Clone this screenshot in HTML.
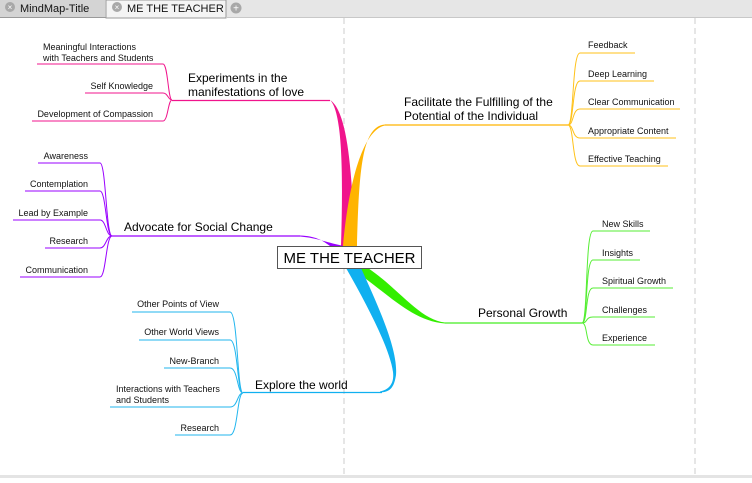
<!DOCTYPE html>
<html><head><style>
body{margin:0;width:752px;height:478px;overflow:hidden;background:#fff;font-family:"Liberation Sans",sans-serif}
</style></head><body>
<svg width="752" height="478" xmlns="http://www.w3.org/2000/svg" font-family="Liberation Sans, sans-serif">
<!-- tab bar -->
<rect x="0" y="0" width="752" height="17" fill="#e6e6e6"/>
<rect x="0" y="0" width="105" height="17" fill="#d4d4d4"/>
<rect x="106" y="0" width="120" height="18" fill="#f4f4f4" stroke="#9a9a9a"/>
<line x1="0" y1="17.5" x2="106" y2="17.5" stroke="#9a9a9a"/>
<line x1="226" y1="17.5" x2="752" y2="17.5" stroke="#c8c8c8"/>
<circle cx="10" cy="7" r="5" fill="#a8a8a8"/><text x="10" y="10" font-size="8" fill="#fff" text-anchor="middle">×</text>
<text x="20" y="12" font-size="11" fill="#111">MindMap-Title</text>
<circle cx="117" cy="7" r="5" fill="#a8a8a8"/><text x="117" y="10" font-size="8" fill="#fff" text-anchor="middle">×</text>
<text x="127" y="12" font-size="11" fill="#111">ME THE TEACHER</text>
<circle cx="236" cy="8" r="5.5" fill="#a8a8a8"/><text x="236" y="11.5" font-size="10" fill="#fff" text-anchor="middle">+</text>
<!-- dashed guides -->
<line x1="344" y1="18" x2="344" y2="476" stroke="#ccc" stroke-dasharray="6,4"/>
<line x1="695" y1="18" x2="695" y2="476" stroke="#ccc" stroke-dasharray="6,4"/>
<rect x="0" y="475" width="752" height="3" fill="#e4e4e4"/>

<!-- pink -->
<path d="M341,246 L355,246 C352,180 349,112 330,100 C343,112 343,180 341,246 Z" fill="#f0148c"/>
<path d="M330,100.5 L172,100.5" stroke="#f0148c" stroke-width="1.2" fill="none"/>
<g stroke="#f0148c" fill="none" stroke-width="1">
<path d="M172,100 C168,100 168,64 163,64 L37,64"/>
<path d="M172,100 C168,100 168,93 163,93 L85,93"/>
<path d="M172,100 C168,100 168,121 163,121 L32,121"/>
</g>
<!-- purple -->
<path d="M344,246 L330,246 C322,240 315,236 300,235.5 L300,236.5 C318,238 328,243 344,246 Z" fill="#9900ff"/>
<path d="M300,236 L112,236" stroke="#9900ff" stroke-width="1.2"/>
<g stroke="#9900ff" fill="none" stroke-width="1">
<path d="M112,236 C106,236 106,163 100,163 L38,163"/>
<path d="M112,236 C106,236 106,191 100,191 L25,191"/>
<path d="M112,236 C106,236 106,220 100,220 L13,220"/>
<path d="M112,236 C106,236 106,248 100,248 L45,248"/>
<path d="M112,236 C106,236 106,277 100,277 L20,277"/>
</g>
<!-- orange -->
<path d="M343,246 L357,246 C359,170 362,126 385,124.5 L385,125.5 C366,129 350,170 343,246 Z" fill="#ffb400"/>
<path d="M385,125 L568,125" stroke="#ffb400" stroke-width="1.2"/>
<g stroke="#ffc21a" fill="none" stroke-width="1">
<path d="M568,125 C574,125 572,53 580,53 L635,53"/>
<path d="M568,125 C574,125 572,81 580,81 L654,81"/>
<path d="M568,125 C574,125 572,109 580,109 L680,109"/>
<path d="M568,125 C574,125 572,138 580,138 L676,138"/>
<path d="M568,125 C574,125 572,166 580,166 L668,166"/>
</g>
<!-- green -->
<path d="M350,268 L368,268 C400,290 420,320 445,322.5 L445,323.5 C410,321 385,290 350,268 Z" fill="#33ee00"/>
<path d="M445,323 L582,323" stroke="#44ee22" stroke-width="1.2"/>
<g stroke="#55ee33" fill="none" stroke-width="1">
<path d="M582,323 C588,323 585,231 593,231 L650,231"/>
<path d="M582,323 C588,323 585,260 593,260 L640,260"/>
<path d="M582,323 C588,323 585,288 593,288 L673,288"/>
<path d="M582,323 C588,323 585,317 593,317 L655,317"/>
<path d="M582,323 C588,323 585,345 593,345 L655,345"/>
</g>
<!-- blue -->
<path d="M346,268 L361,268 C380,310 398,350 396,375 C394,388 390,392 380,392.5 L380,391.5 C392,389 394,380 393,372 C390,350 370,310 346,268 Z" fill="#10b0f0"/>
<path d="M382,392.5 L243,392.5" stroke="#10b0f0" stroke-width="1.2"/>
<g stroke="#22b6ee" fill="none" stroke-width="1">
<path d="M243,393 C237,393 238,312 230,312 L132,312"/>
<path d="M243,393 C237,393 238,340 230,340 L139,340"/>
<path d="M243,393 C237,393 238,368 230,368 L164,368"/>
<path d="M243,393 C237,393 238,407 230,407 L110,407"/>
<path d="M243,393 C237,393 238,435 230,435 L175,435"/>
</g>

<!-- central -->
<rect x="277.5" y="246.5" width="144" height="22" fill="#fff" stroke="#555"/>
<text x="349.5" y="263" font-size="15" text-anchor="middle" fill="#000">ME THE TEACHER</text>

<!-- main labels -->
<g font-size="12" fill="#000">
<text x="188" y="82">Experiments in the</text>
<text x="188" y="96">manifestations of love</text>
<text x="124" y="231">Advocate for Social Change</text>
<text x="404" y="106">Facilitate the Fulfilling of the</text>
<text x="404" y="120">Potential of the Individual</text>
<text x="478" y="317">Personal Growth</text>
<text x="255" y="389">Explore the world</text>
</g>
<!-- sub labels -->
<g font-size="9" fill="#111">
<text x="43" y="50">Meaningful Interactions</text>
<text x="43" y="61">with Teachers and Students</text>
<text x="153" y="89" text-anchor="end">Self Knowledge</text>
<text x="153" y="117" text-anchor="end">Development of Compassion</text>
<text x="88" y="159" text-anchor="end">Awareness</text>
<text x="88" y="187" text-anchor="end">Contemplation</text>
<text x="88" y="216" text-anchor="end">Lead by Example</text>
<text x="88" y="244" text-anchor="end">Research</text>
<text x="88" y="273" text-anchor="end">Communication</text>
<text x="588" y="48">Feedback</text>
<text x="588" y="77">Deep Learning</text>
<text x="588" y="105">Clear Communication</text>
<text x="588" y="134">Appropriate Content</text>
<text x="588" y="162">Effective Teaching</text>
<text x="602" y="227">New Skills</text>
<text x="602" y="256">Insights</text>
<text x="602" y="284">Spiritual Growth</text>
<text x="602" y="313">Challenges</text>
<text x="602" y="341">Experience</text>
<text x="219" y="307" text-anchor="end">Other Points of View</text>
<text x="219" y="335" text-anchor="end">Other World Views</text>
<text x="219" y="364" text-anchor="end">New-Branch</text>
<text x="116" y="392">Interactions with Teachers</text>
<text x="116" y="403">and Students</text>
<text x="219" y="431" text-anchor="end">Research</text>
</g>
</svg>
</body></html>
